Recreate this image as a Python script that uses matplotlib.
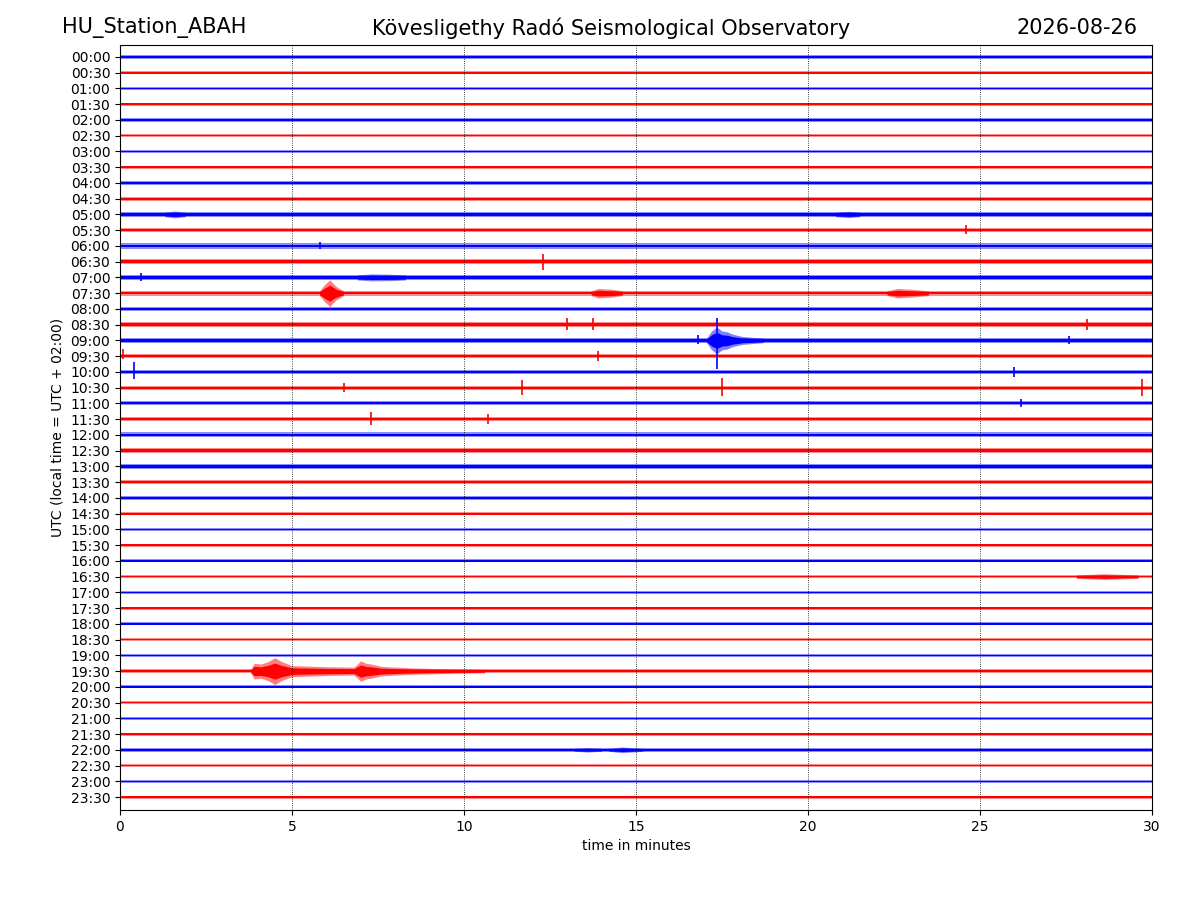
"""Helicorder-style day plot of station ABAH, one trace per half hour.
"""
import matplotlib
matplotlib.use('Agg')
import matplotlib.pyplot as plt

station = 'HU_Station_ABAH'
observatory = 'Kövesligethy Radó Seismological Observatory'
day = '2026-08-26'

row_labels = ['%02d:%02d' % (h, m) for h in range(24) for m in (0, 30)]

# background noise half-amplitude of every trace, in trace spacings
noise_amp = [0.10, 0.10, 0.10, 0.10, 0.10, 0.10, 0.10, 0.09,
             0.11, 0.12, 0.14, 0.14, 0.17, 0.17, 0.16, 0.15,
             0.14, 0.15, 0.14, 0.13, 0.13, 0.13, 0.13, 0.13,
             0.16, 0.16, 0.16, 0.13, 0.12, 0.11, 0.11, 0.10,
             0.10, 0.11, 0.10, 0.09, 0.10, 0.10, 0.10, 0.11,
             0.09, 0.09, 0.10, 0.09, 0.11, 0.10, 0.10, 0.10]

# longer wave trains: row, minutes, envelope half-amplitude
events = [
    (15, [5.8, 5.95, 6.1, 6.2, 6.3, 6.5], [0.15, 0.55, 0.85, 0.6, 0.4, 0.15]),
    (15, [13.7, 13.9, 14.3, 14.6], [0.15, 0.3, 0.25, 0.15]),
    (15, [22.3, 22.6, 23.0, 23.5], [0.15, 0.3, 0.25, 0.15]),
    (14, [6.9, 7.3, 7.9, 8.3], [0.16, 0.22, 0.2, 0.16]),
    (18, [17.05, 17.2, 17.35, 17.5, 17.65, 17.8, 18.1, 18.7],
         [0.14, 0.6, 0.85, 0.6, 0.55, 0.4, 0.25, 0.14]),
    (39, [3.8, 3.9, 4.1, 4.3, 4.5, 4.7, 5.0, 6.0, 6.8, 7.0, 7.15, 7.3, 7.6, 8.5, 9.5, 10.6],
         [0.11, 0.5, 0.45, 0.6, 0.85, 0.6, 0.35, 0.28, 0.25, 0.65, 0.5, 0.45, 0.3, 0.2, 0.15, 0.11]),
    (44, [13.2, 13.6, 14.0], [0.09, 0.14, 0.09]),
    (44, [14.2, 14.6, 15.2], [0.09, 0.18, 0.09]),
    (33, [27.8, 28.6, 29.6], [0.11, 0.18, 0.11]),
    (10, [1.3, 1.6, 1.9], [0.14, 0.22, 0.14]),
    (10, [20.8, 21.2, 21.5], [0.14, 0.2, 0.14]),
]

# single spikes: row, minute, amplitude up, amplitude down
spikes = [
    (13, 12.3, 0.5, 0.5),
    (17, 13.0, 0.4, 0.35),
    (17, 13.75, 0.4, 0.35),
    (17, 28.1, 0.35, 0.35),
    (18, 16.8, 0.35, 0.2),
    (18, 17.35, 1.45, 1.8),
    (18, 27.6, 0.3, 0.2),
    (19, 0.1, 0.45, 0.2),
    (19, 13.9, 0.35, 0.3),
    (20, 0.4, 0.6, 0.45),
    (20, 26.0, 0.3, 0.3),
    (21, 6.5, 0.3, 0.3),
    (21, 11.7, 0.5, 0.45),
    (21, 17.5, 0.6, 0.5),
    (21, 29.7, 0.55, 0.55),
    (22, 26.2, 0.25, 0.25),
    (23, 7.3, 0.45, 0.4),
    (23, 10.7, 0.3, 0.3),
    (14, 0.6, 0.3, 0.25),
    (12, 5.8, 0.25, 0.2),
    (11, 24.6, 0.3, 0.25),
]


def trace_colour(row):
    return 'blue' if row % 2 == 0 else 'red'


fig = plt.figure(figsize=(12, 9), dpi=100)
ax = fig.add_axes([0.1, 0.1, 0.86, 0.85])

for row, amp in enumerate(noise_amp):
    c = trace_colour(row)
    ax.fill_between([0, 30], [row - amp] * 2, [row + amp] * 2,
                    color=c, alpha=0.45, linewidth=0)
    ax.fill_between([0, 30], [row - amp * 0.5] * 2, [row + amp * 0.5] * 2,
                    color=c, linewidth=0)

for row, minutes, env in events:
    c = trace_colour(row)
    ax.fill_between(minutes, [row - a for a in env], [row + a for a in env],
                    color=c, alpha=0.5, linewidth=0)
    ax.fill_between(minutes, [row - a * 0.6 for a in env], [row + a * 0.6 for a in env],
                    color=c, linewidth=0)

for row, minute, up, down in spikes:
    ax.vlines(minute, row - up, row + down, color=trace_colour(row), linewidth=1.2)

ax.set_xlim(0, 30)
ax.set_ylim(47.82, -0.76)
ax.set_xticks(range(0, 31, 5))
ax.set_yticks(range(len(row_labels)))
ax.set_yticklabels(row_labels)
ax.grid(axis='x', color='black', linestyle=':', linewidth=0.6)
ax.set_axisbelow(False)
ax.tick_params(labelsize=10)
ax.set_xlabel('time in minutes', fontsize=10)
ax.set_ylabel('UTC (local time = UTC + 02:00)', fontsize=10)

fig.text(0.052, 0.969, station, fontsize=15, ha='left', va='center')
fig.text(0.509, 0.969, observatory, fontsize=15, ha='center', va='center')
fig.text(0.948, 0.969, day, fontsize=15, ha='right', va='center')

fig.savefig('out.png', dpi=100)
